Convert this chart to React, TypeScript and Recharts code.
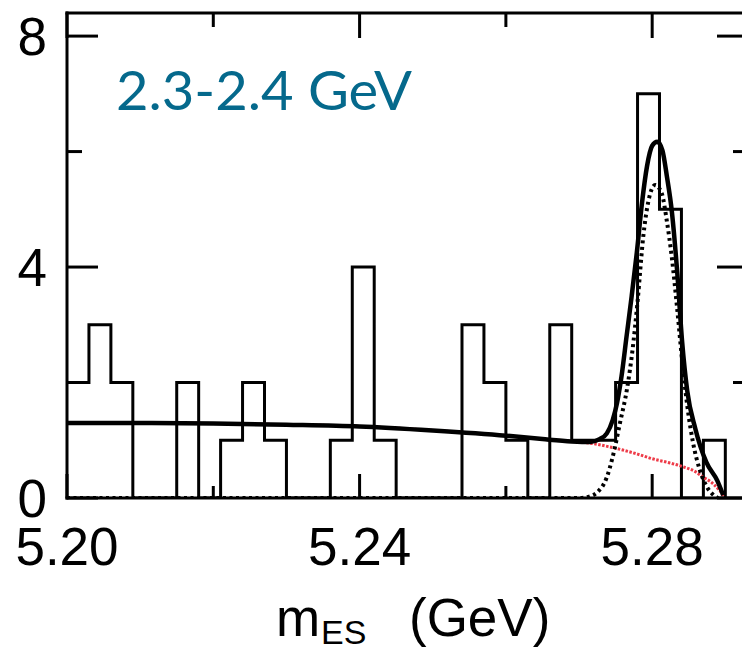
import { ComposedChart, Line, XAxis, YAxis } from "recharts";

// histogram: 30 bins of 3 MeV, lower edges + final upper edge
const binEdges = [
  5.2, 5.203, 5.206, 5.209, 5.212, 5.215, 5.218, 5.221, 5.224, 5.227, 5.23,
  5.233, 5.236, 5.239, 5.242, 5.245, 5.248, 5.251, 5.254, 5.257, 5.26, 5.263,
  5.266, 5.269, 5.272, 5.275, 5.278, 5.281, 5.284, 5.287, 5.29,
];
const binCounts = [
  2, 3, 2, 0, 0, 2, 0, 1, 2, 1, 0, 0, 1, 4, 1, 0, 0, 0, 3, 2, 1, 0, 3, 1, 1, 2, 7,
  5, 0, 1,
];

// full fit (solid)
const fitMass = [
  5.2, 5.21, 5.22, 5.23, 5.24, 5.25, 5.26, 5.265, 5.269, 5.2715, 5.2728, 5.2738,
  5.2746, 5.2752, 5.2758, 5.2765, 5.2772, 5.2779, 5.2786, 5.2793, 5.28, 5.2807,
  5.2814, 5.282, 5.2827, 5.2834, 5.2841, 5.2848, 5.2859, 5.2874, 5.2889, 5.2897,
];
const fitYield = [
  1.3, 1.3, 1.29, 1.27, 1.24, 1.17, 1.08, 1.02, 0.98, 0.97, 1.02, 1.12, 1.35,
  1.65, 2.1, 2.8, 3.5, 4.25, 5.1, 5.75, 6.1, 6.17, 6.02, 5.58, 4.95, 3.95, 2.7,
  1.85, 1.2, 0.62, 0.3, 0.05,
];

// background (red dotted)
const bkgMass = [
  5.2, 5.21, 5.22, 5.23, 5.24, 5.25, 5.26, 5.265, 5.27, 5.272, 5.274, 5.276,
  5.278, 5.28, 5.282, 5.284, 5.286, 5.287, 5.288, 5.289, 5.2895, 5.2898,
];
const bkgYield = [
  1.3, 1.3, 1.29, 1.27, 1.24, 1.17, 1.08, 1.02, 0.97, 0.94, 0.89, 0.83, 0.76,
  0.68, 0.62, 0.55, 0.45, 0.36, 0.28, 0.16, 0.08, 0,
];

// signal (black dotted)
const sigMass = [
  5.2, 5.27, 5.2715, 5.2725, 5.2738, 5.2746, 5.2756, 5.2766, 5.2773, 5.278,
  5.2788, 5.2795, 5.2804, 5.2813, 5.282, 5.2827, 5.2834, 5.2842, 5.2849, 5.2856,
  5.2865, 5.2875, 5.2884, 5.289,
];
const sigYield = [
  0, 0, 0.03, 0.1, 0.36, 0.71, 1.3, 1.92, 2.55, 3.4, 4.55, 5.15, 5.42, 5.28, 4.8,
  4.15, 3.3, 2.25, 1.5, 0.95, 0.49, 0.19, 0.05, 0,
];

const xTicks = [5.2, 5.22, 5.24, 5.26, 5.28];
const xTickLabels = ["5.20", "", "5.24", "", "5.28"];
const yTicks = [0, 2, 4, 6, 8];
const yTickLabels = ["0", "", "4", "", "8"];

const histData = binEdges.map((m, i) => ({ m, y: i < binCounts.length ? binCounts[i] : 0 }));
const fitData = fitMass.map((m, i) => ({ m, y: fitYield[i] }));
const bkgData = bkgMass.map((m, i) => ({ m, y: bkgYield[i] }));
const sigData = sigMass.map((m, i) => ({ m, y: sigYield[i] }));

const labelFont = "'Liberation Sans', Arial, sans-serif";

const xLabelOf = (v: number) => {
  const i = xTicks.findIndex((t) => Math.abs(t - v) < 1e-6);
  return i >= 0 ? xTickLabels[i] : "";
};
const yLabelOf = (v: number) => {
  const i = yTicks.findIndex((t) => Math.abs(t - v) < 1e-6);
  return i >= 0 ? yTickLabels[i] : "";
};

// ticks point into the frame, labels only on majors
const BottomTick = (props: any) => {
  const { x, y, payload } = props;
  const lab = xLabelOf(payload.value);
  return (
    <g>
      <line x1={x} x2={x} y1={y} y2={y - (lab ? 24 : 12)} stroke="#000" strokeWidth={3} />
      {lab && (
        <text x={x} y={y + 67} textAnchor="middle" fontSize={53} fontFamily={labelFont} fill="#000">
          {lab}
        </text>
      )}
    </g>
  );
};

const TopTick = (props: any) => {
  const { x, y, payload } = props;
  const major = xLabelOf(payload.value) !== "";
  return <line x1={x} x2={x} y1={y} y2={y + (major ? 25 : 14)} stroke="#000" strokeWidth={3} />;
};

const LeftTick = (props: any) => {
  const { x, y, payload } = props;
  const lab = yLabelOf(payload.value);
  return (
    <g>
      <line x1={x} x2={x + (lab ? 31 : 15)} y1={y} y2={y} stroke="#000" strokeWidth={3} />
      {lab && (
        <text x={x - 20} y={y + 19} textAnchor="end" fontSize={53} fontFamily={labelFont} fill="#000">
          {lab}
        </text>
      )}
    </g>
  );
};

const RightTick = (props: any) => {
  const { x, y, payload } = props;
  const major = yLabelOf(payload.value) !== "";
  return <line x1={x} x2={x - (major ? 31 : 15)} y1={y} y2={y} stroke="#000" strokeWidth={3} />;
};

const frame = { stroke: "#000", strokeWidth: 3, strokeLinecap: "square" as const };

export default function App() {
  return (
    <div
      style={{
        position: "fixed",
        left: 0,
        top: 0,
        width: 742,
        height: 654,
        overflow: "hidden",
        background: "#fff",
      }}
    >
      <ComposedChart width={760} height={654} margin={{ top: 0, right: 0, bottom: 0, left: 0 }}>
        <XAxis
          xAxisId="b"
          dataKey="m"
          type="number"
          domain={[5.2, 5.2931]}
          allowDataOverflow
          ticks={xTicks}
          interval={0}
          height={156}
          tickSize={0}
          tickMargin={0}
          tickLine={false}
          axisLine={frame}
          tick={<BottomTick />}
        />
        <XAxis
          xAxisId="t"
          orientation="top"
          dataKey="m"
          type="number"
          domain={[5.2, 5.2931]}
          allowDataOverflow
          ticks={xTicks}
          interval={0}
          height={13}
          tickSize={0}
          tickMargin={0}
          tickLine={false}
          axisLine={frame}
          tick={<TopTick />}
        />
        <YAxis
          yAxisId="l"
          type="number"
          domain={[0, 8.4]}
          allowDataOverflow
          ticks={yTicks}
          interval={0}
          width={67}
          tickSize={0}
          tickMargin={0}
          tickLine={false}
          axisLine={frame}
          tick={<LeftTick />}
        />
        <YAxis
          yAxisId="r"
          orientation="right"
          type="number"
          domain={[0, 8.4]}
          allowDataOverflow
          ticks={yTicks}
          interval={0}
          width={12}
          tickSize={0}
          tickMargin={0}
          tickLine={false}
          axisLine={frame}
          tick={<RightTick />}
        />
        <Line
          xAxisId="b"
          yAxisId="l"
          data={histData}
          dataKey="y"
          type="stepAfter"
          stroke="#000"
          strokeWidth={3}
          dot={false}
          activeDot={false}
          isAnimationActive={false}
        />
        <Line
          xAxisId="b"
          yAxisId="l"
          data={bkgData}
          dataKey="y"
          type="monotone"
          stroke="#ee3b48"
          strokeWidth={3}
          strokeDasharray="2.5 1.5"
          dot={false}
          activeDot={false}
          isAnimationActive={false}
        />
        <Line
          xAxisId="b"
          yAxisId="l"
          data={sigData}
          dataKey="y"
          type="monotone"
          stroke="#000"
          strokeWidth={4}
          strokeDasharray="3 3.5"
          dot={false}
          activeDot={false}
          isAnimationActive={false}
        />
        <Line
          xAxisId="b"
          yAxisId="l"
          data={fitData}
          dataKey="y"
          type="monotone"
          stroke="#000"
          strokeWidth={4.5}
          dot={false}
          activeDot={false}
          isAnimationActive={false}
        />
      </ComposedChart>
      <svg
        width={742}
        height={654}
        style={{ position: "absolute", left: 0, top: 0, pointerEvents: "none" }}
      >
        <text x={116} y={110} fontSize={54} fontFamily="Lato, 'Open Sans', sans-serif" fill="#05698c" textLength={296} lengthAdjust="spacingAndGlyphs">
          2.3-2.4 GeV
        </text>
        <text x={276} y={636} fontSize={53} fontFamily={labelFont} fill="#000">
          m
        </text>
        <text x={321} y={644} fontSize={34} fontFamily={labelFont} fill="#000">
          ES
        </text>
        <text x={409} y={636} fontSize={53} fontFamily={labelFont} fill="#000">
          (GeV)
        </text>
      </svg>
    </div>
  );
}
